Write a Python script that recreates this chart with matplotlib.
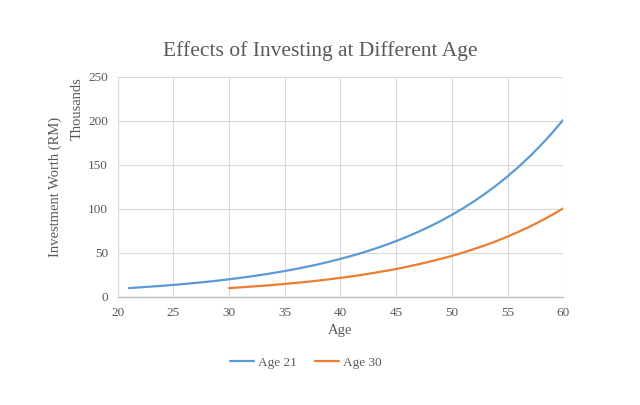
import matplotlib
matplotlib.use("Agg")
import matplotlib.pyplot as plt
from matplotlib.ticker import MultipleLocator

plt.rcParams.update({"font.family": ["Liberation Serif", "DejaVu Serif"], "font.size": 9})
TXT = "#595959"; GRID = "#d9d9d9"; BLUE = "#5b9bd5"; ORANGE = "#ed7d31"

# investment worth (thousands RM), one point per year of age
ages_21 = list(range(21, 61))
worth_21 = [10.0, 10.8, 11.7, 12.6, 13.6, 14.7, 15.9, 17.1, 18.5, 20.0,
            21.6, 23.3, 25.2, 27.2, 29.4, 31.7, 34.3, 37.0, 40.0, 43.2,
            46.6, 50.3, 54.4, 58.7, 63.4, 68.5, 74.0, 79.9, 86.3, 93.2,
            100.6, 108.7, 117.4, 126.8, 136.9, 147.9, 159.7, 172.5, 186.3, 201.2]
ages_30 = list(range(30, 61))
worth_30 = [10.0, 10.8, 11.7, 12.6, 13.6, 14.7, 15.9, 17.1, 18.5, 20.0,
            21.6, 23.3, 25.2, 27.2, 29.4, 31.7, 34.3, 37.0, 40.0, 43.2,
            46.6, 50.3, 54.4, 58.7, 63.4, 68.5, 74.0, 79.9, 86.3, 93.2, 100.6]

fig = plt.figure(figsize=(6.4, 4.05), dpi=100)
ax = fig.add_axes([0.184, 0.267, 0.696, 0.543])
ax.plot(ages_21, worth_21, color=BLUE, lw=1.6, label="Age 21", solid_capstyle="round")
ax.plot(ages_30, worth_30, color=ORANGE, lw=1.6, label="Age 30", solid_capstyle="round")

ax.set_xlim(20, 60); ax.set_ylim(0, 250)
ax.xaxis.set_major_locator(MultipleLocator(5)); ax.yaxis.set_major_locator(MultipleLocator(50))
ax.grid(True, color=GRID, lw=0.8); ax.set_axisbelow(True)
for s in ("top", "right", "left"): ax.spines[s].set_visible(False)
ax.spines["bottom"].set_color("#bfbfbf"); ax.spines["bottom"].set_linewidth(1.0)
ax.tick_params(length=0, colors=TXT, labelsize=9.5, pad=7)

ax.set_xlabel("Age", color=TXT, fontsize=10.5, labelpad=4)
ax.set_ylabel("Investment Worth (RM)", color=TXT, fontsize=10.5, labelpad=19)
ax.text(-0.09, 1.0, "Thousands", transform=ax.transAxes, rotation=90, ha="center", va="top",
        color=TXT, fontsize=10.5)
fig.text(0.5, 0.875, "Effects of Investing at Different Age", ha="center", va="center",
         color=TXT, fontsize=15.5)
fig.legend(loc="center", bbox_to_anchor=(0.478, 0.104), ncol=2, frameon=False, fontsize=9.5,
           labelcolor=TXT, handlelength=1.8, columnspacing=1.4, handletextpad=0.3)

fig.savefig("out.png", dpi=100)
